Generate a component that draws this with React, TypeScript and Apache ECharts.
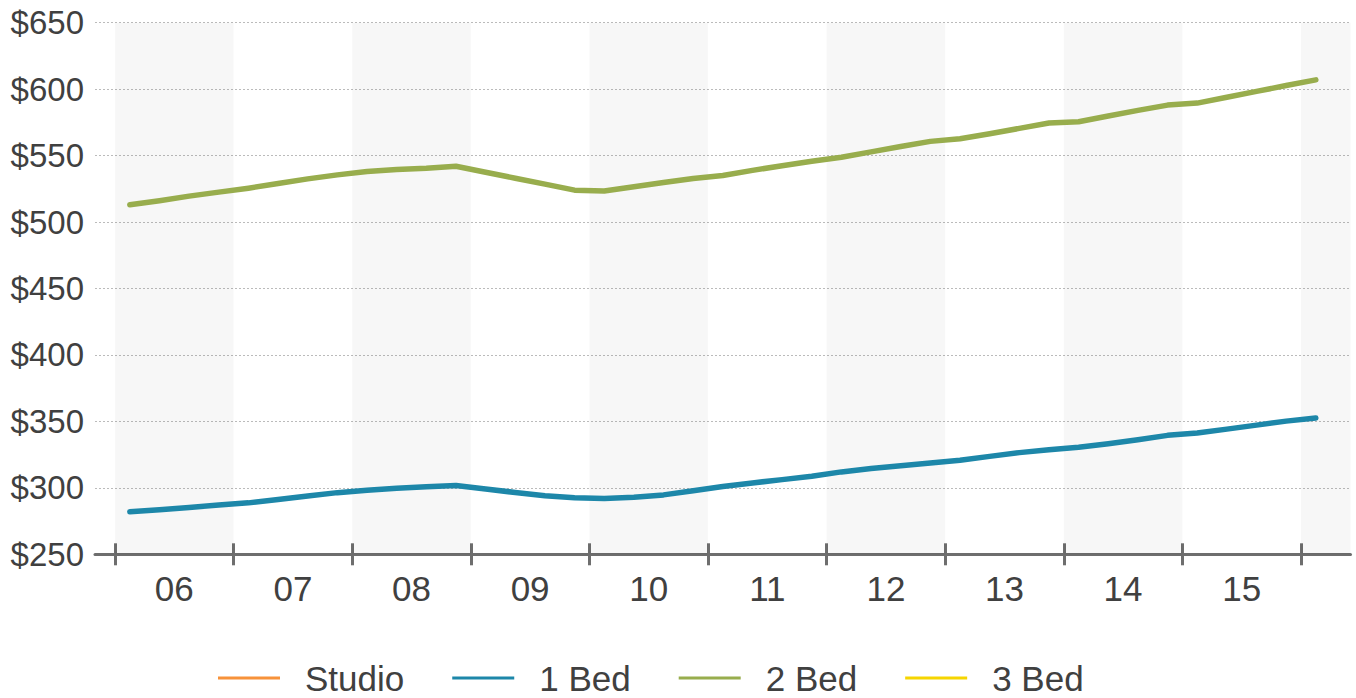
import { useEffect, useRef } from 'react';
import * as echarts from 'echarts';

// Quarterly observations, Q1 2006 .. Q1 2016
const quarters = [
  '2006 Q1', '2006 Q2', '2006 Q3', '2006 Q4',
  '2007 Q1', '2007 Q2', '2007 Q3', '2007 Q4',
  '2008 Q1', '2008 Q2', '2008 Q3', '2008 Q4',
  '2009 Q1', '2009 Q2', '2009 Q3', '2009 Q4',
  '2010 Q1', '2010 Q2', '2010 Q3', '2010 Q4',
  '2011 Q1', '2011 Q2', '2011 Q3', '2011 Q4',
  '2012 Q1', '2012 Q2', '2012 Q3', '2012 Q4',
  '2013 Q1', '2013 Q2', '2013 Q3', '2013 Q4',
  '2014 Q1', '2014 Q2', '2014 Q3', '2014 Q4',
  '2015 Q1', '2015 Q2', '2015 Q3', '2015 Q4',
  '2016 Q1',
];

const yearLabels = ['06', '07', '08', '09', '10', '11', '12', '13', '14', '15'];
const yearStarts = ['2006', '2007', '2008', '2009', '2010', '2011', '2012', '2013', '2014', '2015', '2016'];

const studio: number[] = [];
const bed1 = [
  282, 283.5, 285.3, 287.1,
  288.7, 291.3, 293.9, 296.4,
  298.2, 299.7, 300.9, 301.7,
  299.2, 296.5, 294, 292.5,
  292, 293, 294.7, 297.8,
  301, 303.7, 306.2, 308.7,
  312, 314.5, 316.7, 318.7,
  320.7, 323.7, 326.5, 328.7,
  330.5, 333.2, 336.2, 339.5,
  341.2, 344.2, 347.2, 350.2,
  352.5,
];
const bed2 = [
  513, 516, 519.5, 522.5,
  525.5, 529, 532.5, 535.5,
  538, 539.5, 540.5, 542,
  537.5, 533, 528.5, 524,
  523.3, 526.5, 529.7, 532.8,
  535, 538.9, 542.4, 545.8,
  548.7, 552.8, 556.8, 560.7,
  562.7, 566.5, 570.5, 574.5,
  575.5, 579.8, 584, 588,
  589.5, 593.9, 598.3, 602.7,
  607,
];
const bed3: number[] = [];

const seriesNames = ['Studio', '1 Bed', '2 Bed', '3 Bed'];
const seriesColors = ['#F7923A', '#1D87A9', '#98AD4D', '#F6D500'];

const Q_PER_YEAR = 4;
const X_MIN = -0.675;
const X_MAX = 41.67;

const FONT = "'Liberation Sans', Arial, sans-serif";
const TEXT = '#404040';
const AXIS = '#6e6e6e';

export default function App() {
  const ref = useRef<HTMLDivElement>(null);

  useEffect(() => {
    if (!ref.current) return;
    const chart = echarts.init(ref.current, undefined, { renderer: 'svg' });

    const toPoints = (vals: number[]) => vals.map((v, i) => [i + 0.5, v, quarters[i]]);
    const tickVals = yearStarts.map((_, i) => i * Q_PER_YEAR);
    const labelVals = yearLabels.map((_, i) => i * Q_PER_YEAR + Q_PER_YEAR / 2);

    // shaded bands for alternate years (06, 08, 10, ...)
    const bands: any[] = [];
    for (let i = 0; i < yearStarts.length; i += 2) {
      const start = i * Q_PER_YEAR;
      const end = Math.min((i + 1) * Q_PER_YEAR, X_MAX);
      bands.push([{ xAxis: start }, { xAxis: end }]);
    }

    const allData = [studio, bed1, bed2, bed3];

    const tickLine = { color: AXIS, width: 3 };

    chart.setOption({
      animation: false,
      backgroundColor: '#ffffff',
      grid: { left: 95, right: 5.5, top: 22.7, bottom: 143.7, containLabel: false },
      xAxis: [
        {
          type: 'value',
          min: X_MIN,
          max: X_MAX,
          position: 'bottom',
          axisLine: { show: true, lineStyle: { color: AXIS, width: 3 } },
          axisTick: { show: true, customValues: tickVals, length: 11, inside: false, lineStyle: tickLine },
          axisLabel: {
            customValues: labelVals,
            formatter: (v: number) => yearLabels[Math.round((v - Q_PER_YEAR / 2) / Q_PER_YEAR)] ?? '',
            fontSize: 35,
            color: TEXT,
            fontFamily: FONT,
            margin: 17,
          },
          splitLine: { show: false },
          splitArea: { show: false },
        },
        {
          type: 'value',
          min: X_MIN,
          max: X_MAX,
          position: 'bottom',
          axisLine: { show: false },
          axisTick: { show: true, customValues: tickVals, length: 11, inside: true, lineStyle: tickLine },
          axisLabel: { show: false },
          splitLine: { show: false },
        },
      ],
      yAxis: {
        type: 'value',
        min: 250,
        max: 650,
        interval: 50,
        axisLine: { show: false },
        axisTick: { show: false },
        axisLabel: {
          formatter: (v: number) => '$' + v,
          fontSize: 33,
          color: TEXT,
          fontFamily: FONT,
          margin: 11,
        },
        splitLine: { show: true, lineStyle: { type: [2, 2], color: '#bbbbbb', width: 1 } },
      },
      legend: {
        data: seriesNames,
        left: 218,
        top: 658,
        padding: 0,
        icon: 'rect',
        itemWidth: 62,
        itemHeight: 3,
        itemGap: 48,
        textStyle: {
          fontSize: 35,
          lineHeight: 40,
          color: TEXT,
          fontFamily: FONT,
          padding: [0, 0, 0, 20],
        },
      },
      series: seriesNames.map((name, i) => ({
        name,
        type: 'line',
        xAxisIndex: 0,
        data: toPoints(allData[i]),
        symbol: 'none',
        showSymbol: false,
        lineStyle: { color: seriesColors[i], width: 5.5, cap: 'round', join: 'round' },
        itemStyle: { color: seriesColors[i] },
        markArea:
          i === 1
            ? { silent: true, itemStyle: { color: 'rgba(0,0,0,0.032)' }, data: bands }
            : undefined,
      })),
    });

    return () => chart.dispose();
  }, []);

  return (
    <div
      ref={ref}
      style={{ position: 'fixed', left: 0, top: 0, width: 1356, height: 698, background: '#fff' }}
    />
  );
}
